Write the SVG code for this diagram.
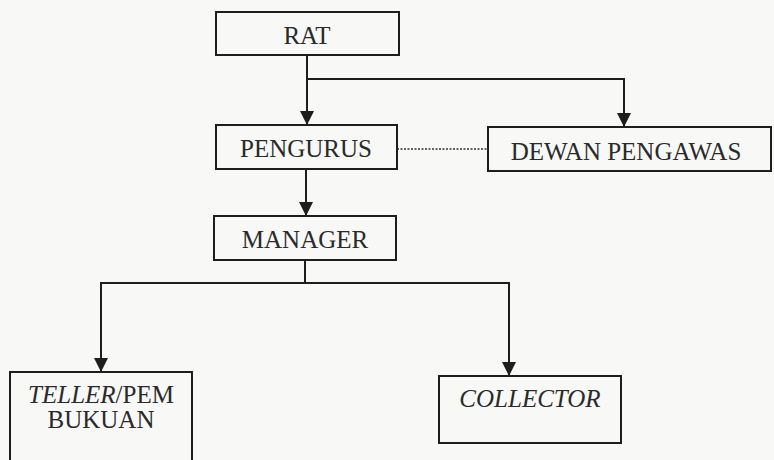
<svg xmlns="http://www.w3.org/2000/svg" width="774" height="460" viewBox="0 0 774 460">
  <style>
    .box { fill: none; stroke: #1e1e1e; stroke-width: 2; }
    .lbl { font-family: 'Liberation Serif', 'DejaVu Serif', serif; font-size: 25px; fill: #2a2a2a; text-anchor: middle; }
    .it { font-style: italic; }
    .conn { fill: none; stroke: #1e1e1e; stroke-width: 2; }
    .dot { fill: none; stroke: #333; stroke-width: 1.5; stroke-dasharray: 2 1.5; }
  </style>
  <defs>
    <marker id="arr" markerUnits="userSpaceOnUse" markerWidth="16" markerHeight="16" refX="14" refY="7" orient="auto">
      <path d="M0,0 L14,7 L0,14 Z" fill="#1e1e1e"/>
    </marker>
  </defs>
  <rect x="0" y="0" width="774" height="460" fill="#f8f8f7"/>

  <g id="connectors">
    <path class="conn" d="M307 55 V125" marker-end="url(#arr)"/>
    <path class="conn" d="M307 79 H624 V127" marker-end="url(#arr)"/>
    <path class="dot" d="M397 149 H488"/>
    <path class="conn" d="M306 169 V216" marker-end="url(#arr)"/>
    <path class="conn" d="M305 260 V283"/>
    <path class="conn" d="M101 283 H509"/>
    <path class="conn" d="M101 282 V372" marker-end="url(#arr)"/>
    <path class="conn" d="M509 282 V376" marker-end="url(#arr)"/>
  </g>

  <g id="rat">
    <rect class="box" x="216" y="12" width="183" height="43"/>
    <text class="lbl" x="307" y="44">RAT</text>
  </g>
  <g id="pengurus">
    <rect class="box" x="216" y="125" width="181" height="44"/>
    <text class="lbl" x="306" y="157">PENGURUS</text>
  </g>
  <g id="dewan-pengawas">
    <rect class="box" x="488" y="127" width="283" height="44"/>
    <text class="lbl" x="626" y="160">DEWAN PENGAWAS</text>
  </g>
  <g id="manager">
    <rect class="box" x="214" y="216" width="182" height="44"/>
    <text class="lbl" x="305" y="248">MANAGER</text>
  </g>
  <g id="teller">
    <rect class="box" x="10" y="372" width="182" height="100"/>
    <text class="lbl" x="101" y="403"><tspan class="it">TELLER</tspan>/PEM</text>
    <text class="lbl" x="101" y="428">BUKUAN</text>
  </g>
  <g id="collector">
    <rect class="box" x="439" y="376" width="182" height="67"/>
    <text class="lbl it" x="530" y="407">COLLECTOR</text>
  </g>
</svg>
